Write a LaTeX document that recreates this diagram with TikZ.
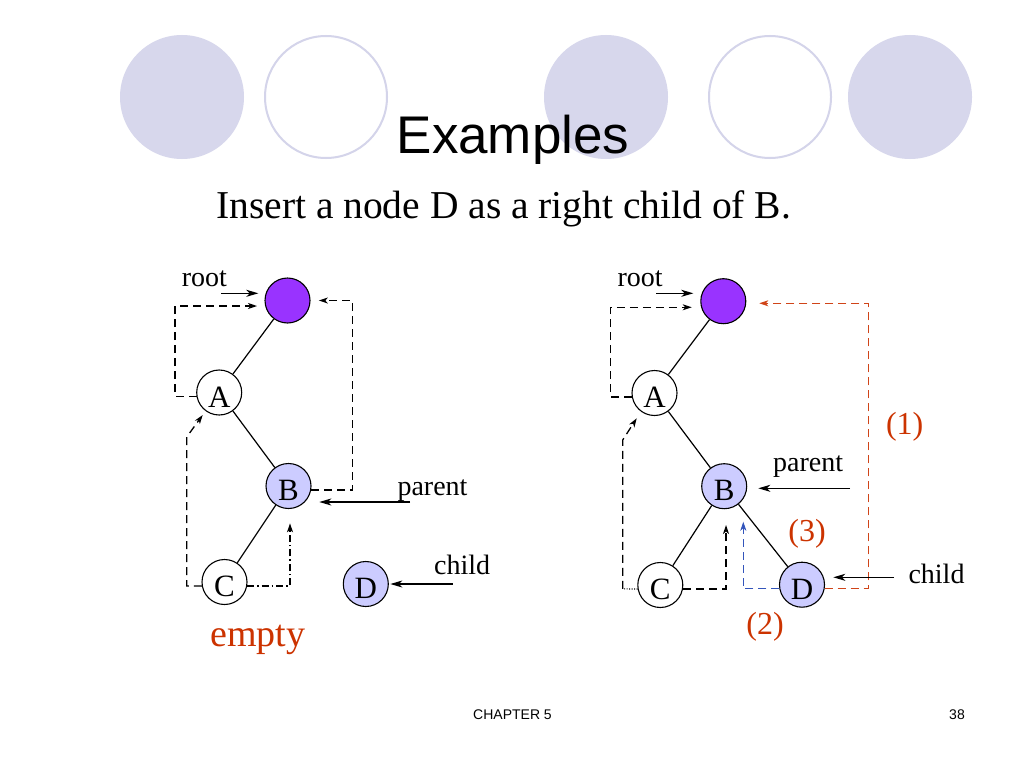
\documentclass[tikz,border=0pt]{standalone}
\usepackage{fontspec}
\setmainfont{Liberation Serif}
\newfontfamily\arialf{Liberation Sans}
\usetikzlibrary{arrows.meta}
\definecolor{bgfill}{HTML}{D7D7EC}
\definecolor{bgline}{HTML}{D4D4EA}
\definecolor{rootc}{HTML}{9933FF}
\definecolor{lav}{HTML}{CCCCFF}
\definecolor{redc}{HTML}{CC3300}
\definecolor{redl}{HTML}{D04418}
\definecolor{bluel}{HTML}{3355BB}
\begin{document}
\begin{tikzpicture}[x=1pt,y=-1pt,
  tnode/.style={circle,draw=black,line width=1.1pt,minimum size=45pt,inner sep=0pt,
    text height=29pt,text depth=0pt,font=\fontsize{31}{31}\selectfont},
  rootnode/.style={circle,draw=black,line width=1.1pt,minimum size=45pt,inner sep=0pt,fill=rootc},
  edge/.style={line width=1.2pt},
  arr/.style={line width=1.3pt,-{Stealth[length=12pt,width=7pt,inset=3.5pt]}},
  thr/.style={line width=1.3pt,dash pattern=on 8pt off 5pt,-{Stealth[length=9pt,width=6pt,inset=2.5pt]}},
  lab/.style={font=\fontsize{28}{28}\selectfont,anchor=base west,inner sep=0pt},
  num/.style={font=\fontsize{32}{32}\selectfont,anchor=base,inner sep=0pt,text=redc},
  bgdisk/.style={circle,fill=bgfill,minimum size=124pt,inner sep=0pt},
  bgring/.style={circle,draw=bgline,line width=2pt,minimum size=122pt,inner sep=0pt}
]
\useasboundingbox (0,0) rectangle (1024,768);
\fill[white] (0,0) rectangle (1024,768);
% background decoration
\node[bgdisk] (d1) at (182,97) {};
\node[bgring] (r1) at (326,97) {};
\node[bgdisk] (d2) at (606,97) {};
\node[bgring] (r2) at (770,97) {};
\node[bgdisk] (d3) at (910,97) {};
% titles
\node[anchor=base,inner sep=0pt,font=\arialf\fontsize{53}{53}\selectfont] (title) at (513,153) {Examples};
\node[anchor=base west,inner sep=0pt,font=\fontsize{39.5}{39.5}\selectfont] (sub) at (216,218.5) {Insert a node D as a right child of B.};

% ---------------- left tree ----------------
\node[rootnode] (rootL) at (287.5,300.5) {};
\node[tnode] (AL) at (219.2,392.5) {A};
\node[tnode,fill=lav] (BL) at (288.5,486) {B};
\node[tnode] (CL) at (224.5,582) {C};
\node[tnode,fill=lav] (DL) at (365.8,584) {D};
\draw[edge] (rootL) -- (AL);
\draw[edge] (AL) -- (BL);
\draw[edge] (BL) -- (CL);

\node[lab] (rootlabL) at (181.7,286) {root};
\coordinate (lr0) at (221,293.3);
\coordinate (lr1) at (258.3,293.3);
\draw[arr] (lr0) -- (lr1);

\coordinate (lk1) at (175,306);
\coordinate (lt1) at (257,306);
\draw[thr] (AL.190) -| (lk1) -- (lt1);

\coordinate (lk2) at (352.7,300.5);
\draw[thr,shorten >=8.3pt] (BL.350) -| (lk2) -- (rootL.east);

\node[lab] (parlabL) at (397.3,495) {parent};
\coordinate (lp0) at (410,502);
\coordinate (lp1) at (319.3,502);
\draw[arr] (lp0) -- (lp1);

\coordinate (lk3) at (186.7,585.9);
\coordinate (lk4) at (186.7,437);
\coordinate (lt3) at (202.7,415);
\draw[thr] (CL.190) -- (lk3) -- (lk4) -- (lt3);

\coordinate (lt4) at (290,523.3);
\draw[line width=1.3pt,dash pattern=on 7pt off 3pt on 1.5pt off 3pt,-{Stealth[length=9pt,width=6pt,inset=2.5pt]}] (CL.350) -| (lt4);

\node[lab] (chlabL) at (434,574) {child};
\coordinate (lc0) at (452.7,584);
\draw[arr,shorten >=1.5pt] (lc0) -- (DL.east);

\node[anchor=base,inner sep=0pt,font=\fontsize{38}{38}\selectfont,text=redc] (empty) at (258,646.7) {empty};

% ---------------- right tree ----------------
\node[rootnode] (rootR) at (723.3,301.2) {};
\node[tnode] (AR) at (654.5,393) {A};
\node[tnode,fill=lav] (BR) at (724.2,486.2) {B};
\node[tnode] (CR) at (660.3,585) {C};
\node[tnode,fill=lav] (DR) at (802,584.7) {D};
\draw[edge] (rootR) -- (AR);
\draw[edge] (AR) -- (BR);
\draw[edge] (BR) -- (CR);
\draw[edge] (BR) -- (DR);

\node[lab] (rootlabR) at (617.3,286) {root};
\coordinate (rr0) at (656,293.3);
\coordinate (rr1) at (693.3,293.3);
\draw[arr] (rr0) -- (rr1);

\coordinate (rk1) at (610.7,307.3);
\coordinate (rt1) at (691.7,307.3);
\draw[thr] (AR.190) -| (rk1) -- (rt1);

\coordinate (rk2) at (622.7,588.9);
\coordinate (rk3) at (622.7,440);
\coordinate (rt2) at (636.7,418.3);
\draw[line width=1.1pt,dash pattern=on 1pt off 1.5pt] (CR.190) -- (rk2);
\draw[thr] (rk2) -- (rk3) -- (rt2);

\coordinate (rt3) at (726,525);
\draw[thr] (CR.350) -| (rt3);

\coordinate (rt4) at (743.3,521.7);
\draw[thr,draw=bluel,-{Stealth[length=9pt,width=6pt,inset=2.5pt,fill=bluel]}] (DR.190) -| (rt4);

\coordinate (rk5) at (868.3,303.3);
\coordinate (rt5) at (759.3,303.3);
\draw[thr,draw=redl,-{Stealth[length=9pt,width=6pt,inset=2.5pt,fill=redl]}] (DR.350) -| (rk5) -- (rt5);

\node[lab] (parlabR) at (773,471.7) {parent};
\coordinate (rp0) at (850,488.3);
\coordinate (rp1) at (758.3,488.3);
\draw[arr] (rp0) -- (rp1);

\node[lab] (chlabR) at (908.3,583.3) {child};
\coordinate (rc0) at (894,577.3);
\coordinate (rc1) at (833.3,577.3);
\draw[arr] (rc0) -- (rc1);

\node[num] (n1) at (904.7,434) {(1)};
\node[num] (n3) at (807,541.7) {(3)};
\node[num] (n2) at (765,634) {(2)};

% footer
\node[anchor=base,inner sep=0pt,font=\arialf\fontsize{14}{14}\selectfont] (chap) at (512.5,719) {CHAPTER 5};
\node[anchor=base,inner sep=0pt,font=\arialf\fontsize{14}{14}\selectfont] (pg) at (957,719) {38};
\end{tikzpicture}
\end{document}
